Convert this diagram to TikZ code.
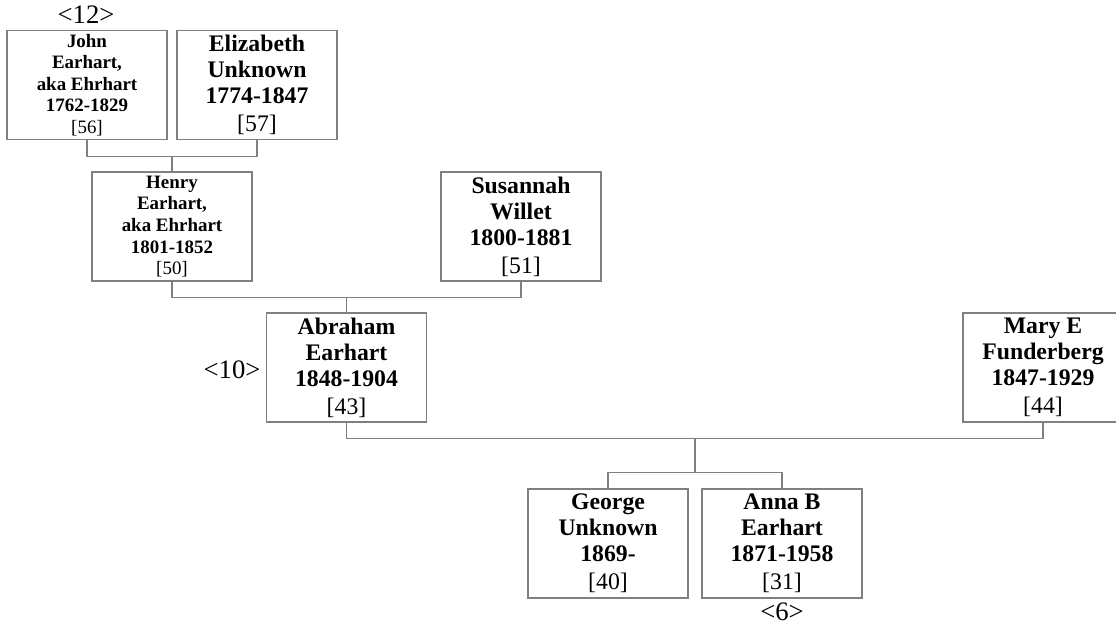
\documentclass[tikz,border=0pt]{standalone}
\usepackage{fontspec}
\setmainfont{Liberation Serif}
\usetikzlibrary{calc}
\definecolor{linegray}{RGB}{128,128,128}
\begin{document}
\begin{tikzpicture}[x=0.75pt,y=-0.75pt,
  person/.style={draw=linegray, line width=0.8pt, minimum width=120pt, minimum height=81.75pt,
    inner sep=0pt, align=center, text=black, font=\fontsize{17.8}{19.5}\selectfont\bfseries},
  smallperson/.style={person, font=\fontsize{14.2}{16.2}\selectfont\bfseries},
  conn/.style={draw=linegray, line width=0.8pt},
  gen/.style={font=\fontsize{20}{22}\selectfont, inner sep=0pt, anchor=base}]
\useasboundingbox (0,0) rectangle (1116,625);
\clip (0,0) rectangle (1116,625);
% boxes
\node[smallperson] (john)   at (87,85)      {John\\Earhart,\\aka Ehrhart\\1762-1829\\\mdseries[56]};
\node[person]      (eliz)   at (257,85)     {Elizabeth\\Unknown\\1774-1847\\[1.5pt]\mdseries[57]};
\node[smallperson] (henry)  at (172,226.5)  {Henry\\Earhart,\\aka Ehrhart\\1801-1852\\\mdseries[50]};
\node[person]      (sus)    at (521,226.5)  {Susannah\\Willet\\1800-1881\\[1.5pt]\mdseries[51]};
\node[person]      (abr)    at (346.5,367.5){Abraham\\Earhart\\1848-1904\\[1.5pt]\mdseries[43]};
\node[person]      (mary)   at (1043,367.5) {Mary E\\Funderberg\\1847-1929\\[1.5pt]\mdseries[44]};
\node[person]      (george) at (608,543.5)  {George\\Unknown\\1869-\\[1.5pt]\mdseries[40]};
\node[person]      (anna)   at (782,543.5)  {Anna B\\Earhart\\1871-1958\\[1.5pt]\mdseries[31]};
% generation labels
\node[gen] (g12) at (86,23.3)   {<12>};
\node[gen] (g10) at (232,378.3) {<10>};
\node[gen] (g6)  at (782,620)   {<6>};
% connectors
\draw[conn] (john.south) -- ++(0,16) coordinate (j1) -| (eliz.south);
\draw[conn] (henry.north) -- (henry.north |- j1);
\draw[conn] (henry.south) -- ++(0,16) coordinate (j2) -| (sus.south);
\draw[conn] (abr.north) -- (abr.north |- j2);
\draw[conn] (abr.south) -- ++(0,16) coordinate (j3) -| (mary.south);
\draw[conn] (george.north) -- ++(0,-16) coordinate (j4) -| (anna.north);
\coordinate (m3) at ($(george.north)!0.5!(anna.north)$);
\draw[conn] (m3 |- j3) -- (m3 |- j4);
\end{tikzpicture}
\end{document}
